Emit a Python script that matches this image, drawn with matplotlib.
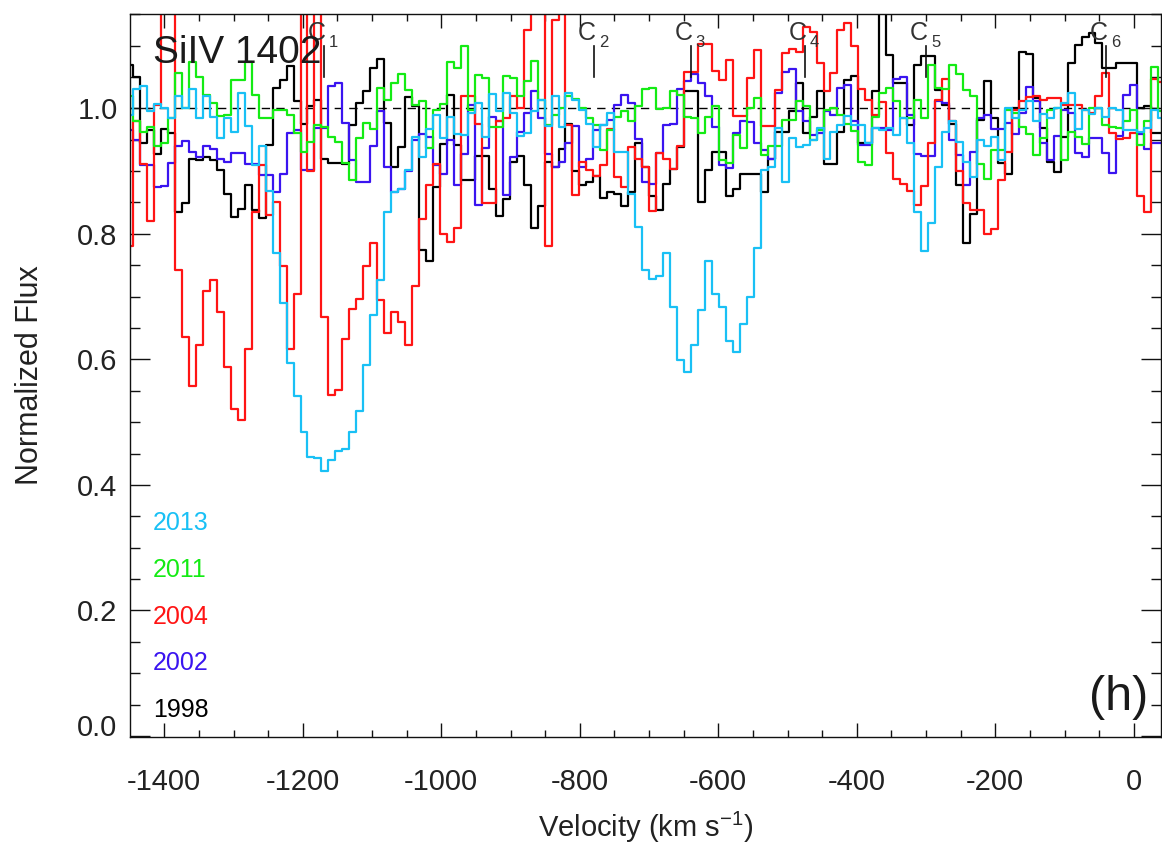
import numpy as np
import matplotlib
matplotlib.use("Agg")
import matplotlib.pyplot as plt
from matplotlib.ticker import MultipleLocator, FixedLocator, FixedFormatter

plt.rcParams['font.family'] = ['Liberation Sans', 'DejaVu Sans']
plt.rcParams['axes.unicode_minus'] = False
plt.rcParams['mathtext.fontset'] = 'custom'
plt.rcParams['mathtext.rm'] = 'Liberation Sans'
plt.rcParams['mathtext.it'] = 'Liberation Sans:italic'

# ---- velocity grid of the spectra (km/s) ----
V_START = -1450.0
V_STEP = 10.07

# ---- normalized flux per epoch ----
flux_1998 = [
    1.069, 1.050, 0.945, 0.965, 0.927, 0.967, 0.960, 0.835, 0.849, 0.920,
    0.918, 0.923, 0.918, 0.902, 0.864, 0.827, 0.839, 0.878, 0.838, 0.825,
    0.942, 1.032, 1.045, 1.067, 1.011, 0.975, 1.003, 1.014, 0.920, 0.913,
    0.913, 0.912, 0.973, 1.009, 1.027, 1.064, 1.078, 0.977, 0.906, 0.938,
    1.018, 1.004, 0.774, 0.757, 0.874, 0.943, 1.021, 0.942, 0.886, 0.886,
    0.924, 0.924, 0.872, 0.828, 0.855, 0.915, 0.924, 0.878, 0.810, 0.844,
    0.915, 0.907, 0.935, 0.975, 0.900, 0.878, 0.883, 0.892, 0.857, 0.866,
    0.864, 0.844, 0.866, 0.944, 0.907, 0.860, 0.838, 0.879, 0.904, 0.939,
    1.027, 1.027, 0.851, 0.902, 0.931, 0.931, 0.860, 0.871, 0.895, 0.895,
    0.896, 0.867, 0.920, 0.963, 0.963, 0.995, 1.040, 0.960, 0.986, 1.027,
    0.911, 0.911, 0.963, 1.045, 1.052, 0.944, 0.944, 1.027, 1.300, 1.085,
    1.040, 1.040, 0.973, 1.069, 1.083, 1.083, 1.029, 1.005, 0.975, 0.878,
    0.785, 0.832, 0.982, 1.044, 0.985, 0.913, 0.895, 1.000, 1.089, 1.087,
    1.016, 0.968, 0.915, 0.899, 0.955, 1.072, 1.101, 1.113, 1.120, 1.104,
    1.064, 1.064, 1.072, 1.072, 1.072, 1.000, 1.003, 0.960, 0.960, 0.960,
]
flux_2002 = [
    0.965, 0.950, 0.910, 0.909, 0.875, 0.876, 0.913, 0.940, 0.948, 0.931,
    0.923, 0.940, 0.935, 0.920, 0.915, 0.928, 0.928, 0.912, 0.912, 0.893,
    0.893, 0.867, 0.895, 0.960, 0.965, 0.902, 0.902, 0.968, 0.968, 1.035,
    1.041, 0.976, 0.918, 0.883, 0.883, 0.940, 0.996, 0.906, 0.867, 0.872,
    0.900, 0.950, 0.959, 0.955, 0.910, 0.895, 0.950, 0.878, 0.927, 1.005,
    0.846, 0.936, 0.986, 0.980, 0.862, 0.923, 0.963, 0.992, 1.027, 0.984,
    0.927, 0.907, 0.915, 0.944, 0.972, 0.907, 0.920, 0.965, 0.973, 0.981,
    1.005, 1.021, 1.009, 0.951, 0.883, 0.879, 0.929, 0.973, 0.975, 1.030,
    1.044, 1.055, 1.040, 1.020, 0.970, 0.910, 0.905, 0.960, 0.980, 0.978,
    0.944, 0.934, 0.920, 1.025, 1.058, 1.062, 0.995, 0.980, 0.958, 0.960,
    0.995, 0.990, 1.033, 1.037, 0.980, 0.942, 0.942, 0.968, 0.968, 0.965,
    1.046, 1.050, 0.989, 0.927, 0.924, 0.924, 1.011, 1.009, 0.950, 0.926,
    0.878, 0.930, 0.984, 0.989, 0.967, 0.967, 0.976, 0.959, 0.992, 1.034,
    1.011, 0.945, 0.918, 0.956, 0.998, 0.992, 0.929, 0.922, 0.952, 0.952,
    0.928, 0.897, 0.956, 1.021, 1.037, 0.959, 0.935, 0.944, 0.944, 0.944,
]
flux_2004 = [
    0.780, 0.980, 0.912, 0.820, 1.005, 1.300, 1.300, 0.743, 0.636, 0.557,
    0.623, 0.709, 0.726, 0.676, 0.588, 0.521, 0.504, 0.616, 0.834, 0.910,
    0.830, 0.850, 0.748, 0.616, 0.704, 1.300, 0.900, 1.300, 0.667, 0.544,
    0.551, 0.633, 0.681, 0.696, 0.748, 0.786, 0.694, 0.642, 0.675, 0.659,
    0.623, 0.717, 0.823, 0.878, 0.911, 0.800, 0.787, 0.810, 1.020, 1.020,
    0.975, 0.849, 0.849, 0.980, 0.985, 1.020, 1.000, 1.124, 1.300, 1.300,
    0.780, 1.140, 1.300, 0.973, 0.862, 0.915, 0.902, 0.892, 0.910, 0.967,
    0.891, 0.875, 0.939, 0.920, 0.907, 0.837, 0.929, 0.920, 0.904, 0.940,
    1.058, 1.058, 1.103, 1.103, 1.060, 1.045, 1.077, 0.987, 0.987, 1.048,
    1.093, 0.971, 0.971, 1.029, 1.088, 1.094, 1.090, 1.130, 1.122, 1.072,
    1.027, 1.056, 1.125, 1.136, 1.100, 1.030, 1.014, 0.990, 1.010, 0.929,
    0.888, 0.880, 0.869, 0.846, 0.877, 0.944, 1.013, 1.046, 0.980, 0.900,
    0.849, 0.838, 0.838, 0.800, 0.807, 0.885, 0.931, 0.998, 1.011, 1.018,
    1.020, 1.014, 1.016, 1.017, 1.005, 1.005, 1.006, 0.998, 0.992, 1.019,
    1.057, 0.960, 0.951, 0.952, 0.960, 0.860, 0.835, 1.046, 1.042, 1.042,
]
flux_2011 = [
    1.020, 0.980, 0.963, 0.970, 0.940, 0.945, 0.984, 1.056, 1.000, 1.074,
    1.050, 1.021, 1.008, 0.987, 0.990, 1.045, 1.045, 1.074, 1.021, 0.984,
    0.984, 0.997, 0.997, 0.990, 0.960, 0.931, 0.947, 0.973, 0.970, 0.954,
    0.947, 0.913, 0.885, 0.952, 0.976, 0.967, 1.033, 1.014, 1.041, 1.054,
    1.029, 1.005, 1.011, 0.936, 0.997, 1.007, 1.074, 1.064, 1.100, 0.997,
    1.053, 1.048, 0.970, 0.970, 1.052, 1.048, 1.019, 1.043, 1.076, 1.013,
    0.973, 0.990, 1.000, 1.020, 1.015, 1.000, 0.985, 0.973, 0.933, 0.965,
    0.986, 0.995, 0.980, 1.004, 1.030, 1.032, 0.999, 1.000, 1.027, 1.021,
    0.986, 0.985, 0.961, 0.986, 1.004, 0.918, 0.913, 0.958, 0.936, 1.000,
    1.016, 0.926, 0.940, 0.940, 0.982, 0.982, 1.011, 1.003, 0.950, 0.965,
    0.997, 1.000, 0.990, 0.975, 0.964, 0.915, 0.909, 0.986, 1.024, 1.032,
    1.011, 0.984, 0.985, 1.014, 0.984, 1.069, 1.032, 1.030, 1.069, 1.055,
    1.029, 1.020, 0.912, 0.888, 0.933, 0.933, 0.997, 0.993, 0.970, 0.959,
    0.926, 0.952, 0.998, 1.000, 0.918, 0.963, 0.955, 0.943, 1.000, 1.000,
    0.973, 0.970, 0.968, 0.980, 0.997, 0.941, 0.980, 1.065, 0.995, 0.995,
]
flux_2013 = [
    0.990, 1.030, 1.036, 0.995, 1.007, 1.000, 0.985, 1.019, 1.000, 1.030,
    0.984, 1.020, 0.986, 0.952, 0.984, 0.963, 1.024, 0.971, 0.910, 0.940,
    0.868, 0.769, 0.690, 0.595, 0.541, 0.484, 0.445, 0.443, 0.422, 0.440,
    0.454, 0.458, 0.484, 0.517, 0.591, 0.670, 0.726, 0.834, 0.867, 0.872,
    0.902, 0.954, 0.923, 0.967, 0.989, 0.952, 0.986, 0.959, 0.958, 0.993,
    1.009, 0.955, 1.023, 0.995, 1.025, 0.992, 0.956, 0.961, 0.995, 1.013,
    0.971, 1.020, 0.970, 1.024, 1.013, 0.997, 0.975, 0.938, 0.973, 0.993,
    0.930, 0.930, 0.864, 0.811, 0.743, 0.728, 0.733, 0.770, 0.683, 0.599,
    0.580, 0.623, 0.678, 0.756, 0.704, 0.683, 0.629, 0.612, 0.656, 0.700,
    0.777, 0.902, 0.907, 0.968, 0.883, 0.952, 0.939, 0.941, 0.950, 0.968,
    0.920, 0.963, 0.973, 0.987, 0.973, 0.973, 0.944, 0.968, 0.966, 0.968,
    0.958, 0.984, 0.944, 0.835, 0.772, 0.818, 0.907, 0.963, 0.979, 0.947,
    0.915, 0.891, 0.950, 0.940, 0.954, 0.918, 1.000, 0.984, 0.997, 1.012,
    0.980, 0.991, 0.984, 1.000, 1.009, 1.024, 0.967, 0.997, 0.991, 1.000,
    0.986, 1.000, 0.997, 0.965, 0.965, 0.963, 0.968, 0.997, 0.984, 0.984,
]

years = ['1998', '2002', '2004', '2011', '2013']
colors = ['#000000', '#3A14F0', '#FF1414', '#14EB14', '#19C0F5']
series = [flux_1998, flux_2002, flux_2004, flux_2011, flux_2013]
label_y = [0.041, 0.116, 0.190, 0.265, 0.339]

comp_names = ['1', '2', '3', '4', '5', '6']
comp_v = [-1170, -780, -640, -475, -300, -40]

x_ticks = [-1400, -1200, -1000, -800, -600, -400, -200, 0]
y_ticks = [0.0, 0.2, 0.4, 0.6, 0.8, 1.0]

fig = plt.figure(figsize=(11.62, 8.5), dpi=100)
ax = fig.add_axes([130 / 1162, 1 - 737.3 / 850, 1031 / 1162, 723.8 / 850])

ax.axhline(1.0, color='black', lw=1.0, ls=(0, (6, 4.5)), zorder=1)
for flux, col in zip(series, colors):
    v = V_START + V_STEP * np.arange(len(flux))
    ax.step(v, flux, where='mid', color=col, lw=1.6, zorder=2)

ax.set_xlim(-1449.5, 39.3)
ax.set_ylim(-0.002, 1.151)

ax.xaxis.set_major_locator(FixedLocator(x_ticks))
ax.xaxis.set_major_formatter(FixedFormatter([str(t) for t in x_ticks]))
ax.xaxis.set_minor_locator(MultipleLocator(50))
ax.yaxis.set_major_locator(FixedLocator(y_ticks))
ax.yaxis.set_major_formatter(FixedFormatter(['%.1f' % t for t in y_ticks]))
ax.yaxis.set_minor_locator(MultipleLocator(0.05))

ax.tick_params(which='both', direction='in', top=True, right=True, width=1.0,
               colors='#111111', labelcolor='#222222')
ax.tick_params(axis='x', which='major', length=10, labelsize=21, pad=22)
ax.tick_params(axis='x', which='minor', length=5)
ax.tick_params(axis='y', which='major', length=14.5, labelsize=21, pad=9)
ax.tick_params(axis='y', which='minor', length=7.2)
for s in ax.spines.values():
    s.set_linewidth(1.0)
    s.set_color('#111111')

fig.canvas.draw()
ylabs = ax.get_yticklabels()
ylabs[0].set_verticalalignment('baseline')

ax.set_xlabel('Velocity (km s$^{\\mathregular{-1}}$)', fontsize=21, color='#222222')
ax.xaxis.set_label_coords(0.5, -0.100)
ax.set_ylabel('Normalized Flux', fontsize=22, color='#222222')
ax.yaxis.set_label_coords(-0.082, 0.5)

ax.text(-1416, 1.072, 'SiIV 1402', fontsize=28, color='#1a1a1a', ha='left', va='baseline', zorder=5)
ax.text(20.5, 0.042, '(h)', fontsize=35, color='#1a1a1a', ha='right', va='baseline', zorder=5)

for yr, col, yy in zip(years, colors, label_y):
    ax.text(-1416, yy, yr, fontsize=18, color=col, ha='left', va='center')

for name, cv in zip(comp_names, comp_v):
    ax.plot([cv, cv], [1.050, 1.100], color='#111111', lw=1.2, zorder=4)
    ax.text(cv + 2.5, 1.109, 'C', fontsize=18, color='#333333', ha='right', va='baseline', zorder=4)
    ax.text(cv + 7.5, 1.098, name, fontsize=12, color='#333333', ha='left', va='baseline', zorder=4)

fig.savefig('out.png', dpi=100)
